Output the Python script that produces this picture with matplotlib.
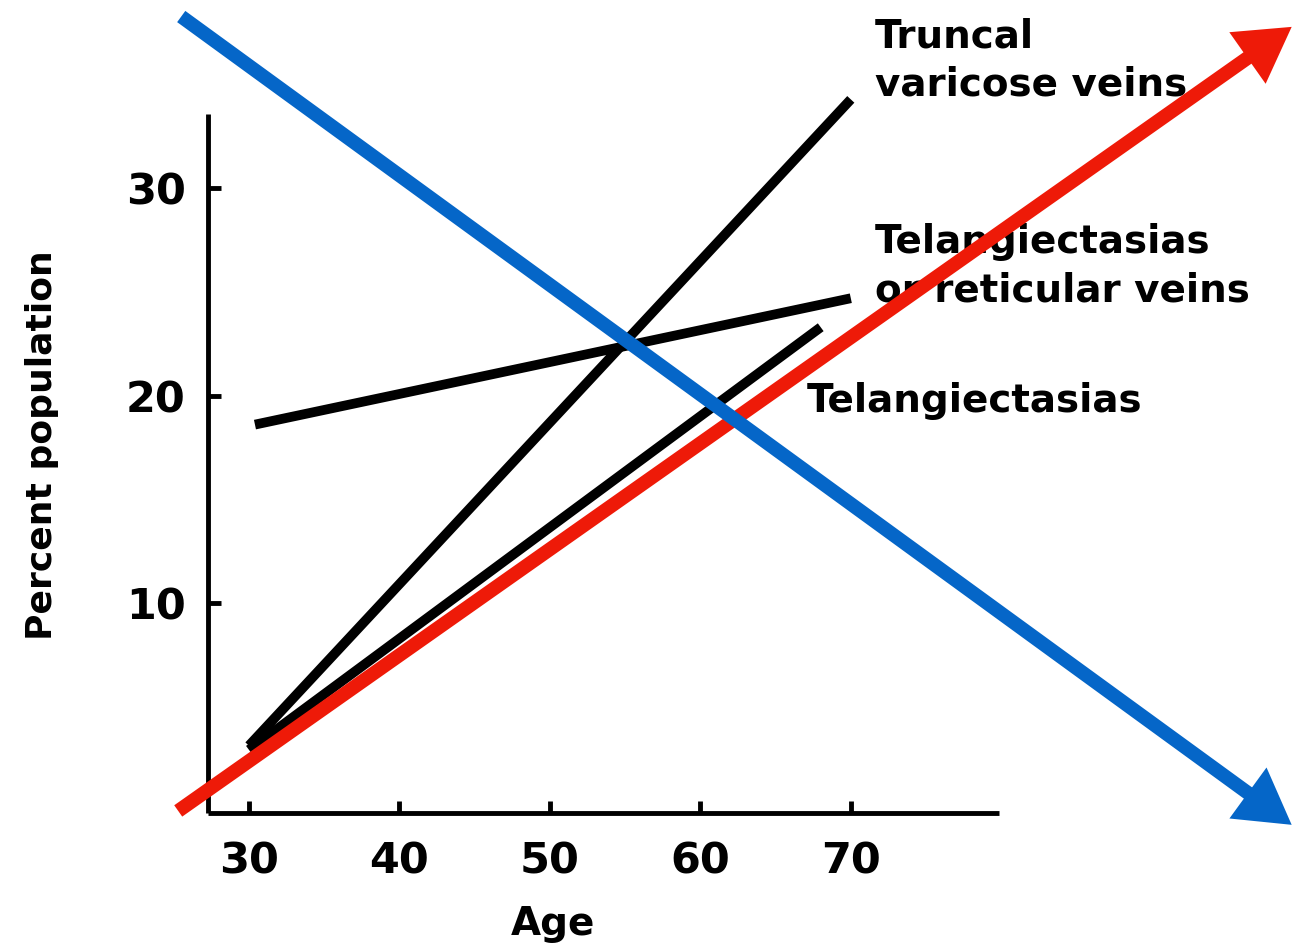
import matplotlib
matplotlib.use("Agg")
import matplotlib.pyplot as plt

# ---- data ----
truncal_age = [30, 70]
truncal_pct = [3.1, 34.3]
telret_age = [30.4, 70]
telret_pct = [18.6, 24.7]
tel_age = [30, 68]
tel_pct = [2.9, 23.3]

x_ticks = [30, 40, 50, 60, 70]
y_ticks = [10, 20, 30]

red_arrow = [(25.3, -0.05), (99.3, 37.8)]
blue_arrow = [(25.5, 38.3), (99.3, -0.72)]

FONT = "DejaVu Sans"
plt.rcParams['font.family'] = [FONT]

fig = plt.figure(figsize=(12.92, 9.49), dpi=100)
ax = fig.add_axes([0.161, 0.1433, 0.612, 0.7367])
ax.set_xlim(27.28, 79.83)
ax.set_ylim(-0.15, 33.6)

lw = 7
for a, p in [(truncal_age, truncal_pct), (telret_age, telret_pct), (tel_age, tel_pct)]:
    ax.plot(a, p, color='black', lw=lw, solid_capstyle='butt', clip_on=False)

for s in ['top', 'right']:
    ax.spines[s].set_visible(False)
for s in ['left', 'bottom']:
    ax.spines[s].set_linewidth(3.5)
    ax.spines[s].set_capstyle('butt')

ax.set_xticks(x_ticks)
ax.set_yticks(y_ticks)
ax.tick_params(direction='in', length=9, width=3.5, labelsize=31)
ax.tick_params(axis='x', pad=20)
ax.tick_params(axis='y', pad=16)
for lab in ax.get_xticklabels() + ax.get_yticklabels():
    lab.set_fontweight('bold')

ax.set_xlabel('Age', fontsize=28, fontweight='bold')
ax.xaxis.set_label_coords(0.436, -0.132)
ax.set_ylabel('Percent population', fontsize=26, fontweight='bold')
ax.yaxis.set_label_coords(-0.188, 0.526)

tkw = dict(fontsize=28, fontweight='bold', va='baseline', ha='left', clip_on=False)
ax.text(71.6, 36.8, 'Truncal', **tkw)
ax.text(71.6, 34.5, 'varicose veins', **tkw)
ax.text(71.6, 26.9, 'Telangiectasias', **tkw)
ax.text(71.6, 24.55, 'or reticular veins', **tkw)
ax.text(67.1, 19.2, 'Telangiectasias', **tkw)

for (start, end), col in [(red_arrow, '#EE1A08'), (blue_arrow, '#0566C8')]:
    ax.annotate('', xy=end, xytext=start, xycoords='data', textcoords='data',
                annotation_clip=False,
                arrowprops=dict(arrowstyle='-|>,head_length=24,head_width=14',
                                mutation_scale=1, lw=10, color=col,
                                shrinkA=0, shrinkB=0, joinstyle='miter', capstyle='butt'))

fig.savefig('out.png', dpi=100)
